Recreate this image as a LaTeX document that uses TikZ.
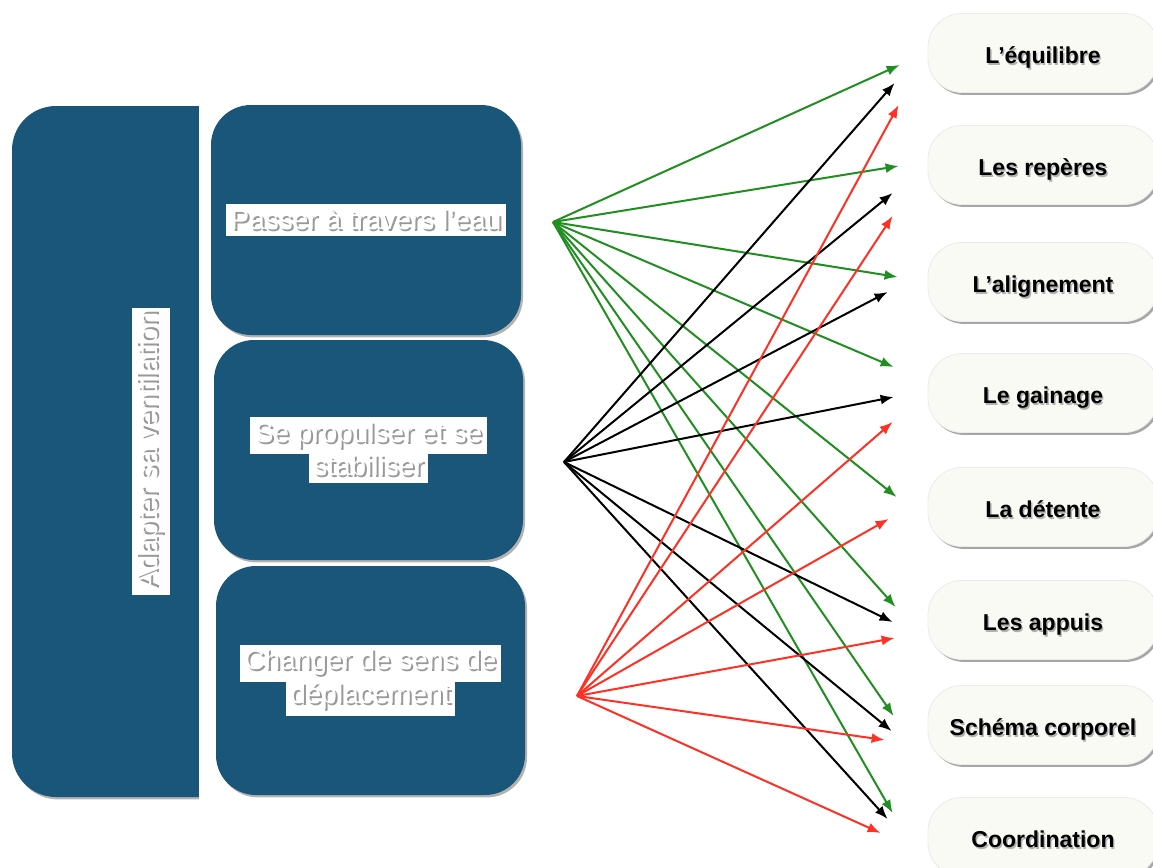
\documentclass[tikz,border=0pt]{standalone}
\usepackage{graphicx}
\usepackage{fontspec}
\setmainfont{Liberation Sans}
\usetikzlibrary{arrows.meta,shadows}

\definecolor{boxblue}{RGB}{25,86,121}
\definecolor{boxcream}{RGB}{250,250,245}
\definecolor{arrowgreen}{RGB}{32,142,32}
\definecolor{arrowred}{RGB}{255,48,36}

% white text with a grey shadow, on a white strip
\newcommand{\glow}[1]{\makebox[0pt][l]{\hspace{1pt}\raisebox{-1pt}{\textcolor{black!40}{#1}}}\textcolor{white}{#1}}
\newcommand{\hl}[1]{\colorbox{white}{\glow{#1}}}
% black text with a grey shadow
\newcommand{\dropped}[1]{\makebox[0pt][l]{\hspace{0.7pt}\raisebox{-1pt}{\textcolor{black!30}{#1}}}#1}
\setlength{\fboxsep}{2.2pt}

\begin{document}
\begin{tikzpicture}[x=0.5pt,y=-0.5pt,
  bluebox/.style={fill=boxblue, rounded corners=20pt, inner sep=0pt, align=center,
    font=\fontsize{14}{15}\selectfont,
    drop shadow={shadow xshift=1pt, shadow yshift=-1.2pt, opacity=0.6}},
  goalbox/.style={fill=boxcream, draw=black!8, rounded corners=17pt,
    minimum width=115pt, minimum height=39.5pt, text height=10.2pt, text depth=0pt,
    font=\bfseries\fontsize{11.5}{13}\selectfont,
    drop shadow={shadow xshift=1pt, shadow yshift=-1.2pt, opacity=0.7}},
  greenarrow/.style={draw=arrowgreen, line width=1pt, -{Latex[length=6.5pt,width=5pt]}},
  blackarrow/.style={draw=black, line width=1pt, -{Latex[length=6.5pt,width=5pt]}},
  redarrow/.style={draw=arrowred, line width=1pt, -{Latex[length=6.5pt,width=5pt]}}]
\useasboundingbox (0,0) rectangle (1153,868);

% left part
\node[bluebox, rounded corners=22pt, minimum width=139pt, minimum height=345.5pt] (vent) at (151,451.5)
  {\rotatebox{90}{\fontsize{14.5}{15}\selectfont\hl{Adapter sa ventilation}}};
\fill[white] (199,100) rectangle (540,810);
\node[bluebox, minimum width=155pt, minimum height=115pt] (pass) at (366,220) {\raisebox{-1.5pt}{\hl{Passer à travers l’eau}}};
\node[bluebox, minimum width=154.5pt, minimum height=110pt] (prop) at (368.5,450) {\hl{Se propulser et se}\\[-2.5pt]\hl{stabiliser}};
\node[bluebox, minimum width=154.5pt, minimum height=114.5pt] (chan) at (370.5,680.5) {\hl{Changer de sens de}\\[-2.5pt]\hl{déplacement}};

% right part
\node[goalbox] (equ) at (1043,53) {\dropped{L’équilibre}};
\node[goalbox] (rep) at (1043,165) {\dropped{Les repères}};
\node[goalbox] (ali) at (1043,282) {\dropped{L’alignement}};
\node[goalbox] (gai) at (1043,393) {\dropped{Le gainage}};
\node[goalbox] (det) at (1043,507) {\dropped{La détente}};
\node[goalbox] (app) at (1043,620) {\dropped{Les appuis}};
\node[goalbox] (sch) at (1043,725) {\dropped{Schéma corporel}};
\node[goalbox] (coo) at (1043,837) {\dropped{Coordination}};

\coordinate (g) at (553,222);
\coordinate (k) at (564,462);
\coordinate (r) at (577,696);

\path[draw,greenarrow] (g) -- ([shift={(-28,12)}]equ.west);
\path[draw,greenarrow] (g) -- ([shift={(-29,1)}]rep.west);
\path[draw,greenarrow] (g) -- ([shift={(-30,-5)}]ali.west);
\path[draw,greenarrow] (g) -- ([shift={(-34,-26)}]gai.west);
\path[draw,greenarrow] (g) -- ([shift={(-31,-10)}]det.west);
\path[draw,greenarrow] (g) -- ([shift={(-32,-13)}]app.west);
\path[draw,greenarrow] (g) -- ([shift={(-34,-9)}]sch.west);
\path[draw,greenarrow] (g) -- ([shift={(-35,-24)}]coo.west);

\path[draw,blackarrow] (k) -- ([shift={(-33,30)}]equ.west);
\path[draw,blackarrow] (k) -- ([shift={(-35,28)}]rep.west);
\path[draw,blackarrow] (k) -- ([shift={(-40,10)}]ali.west);
\path[draw,blackarrow] (k) -- ([shift={(-34,4)}]gai.west);
\path[draw,blackarrow] (k) -- ([shift={(-35,2)}]app.west);
\path[draw,blackarrow] (k) -- ([shift={(-36,6)}]sch.west);
\path[draw,blackarrow] (k) -- ([shift={(-40,-18)}]coo.west);

\path[draw,redarrow] (r) -- ([shift={(-29,52)}]equ.west);
\path[draw,redarrow] (r) -- ([shift={(-35,51)}]rep.west);
\path[draw,redarrow] (r) -- ([shift={(-35,29)}]gai.west);
\path[draw,redarrow] (r) -- ([shift={(-39,12)}]det.west);
\path[draw,redarrow] (r) -- ([shift={(-33,18)}]app.west);
\path[draw,redarrow] (r) -- ([shift={(-43,15)}]sch.west);
\path[draw,redarrow] (r) -- ([shift={(-47,-4)}]coo.west);
\end{tikzpicture}
\end{document}
